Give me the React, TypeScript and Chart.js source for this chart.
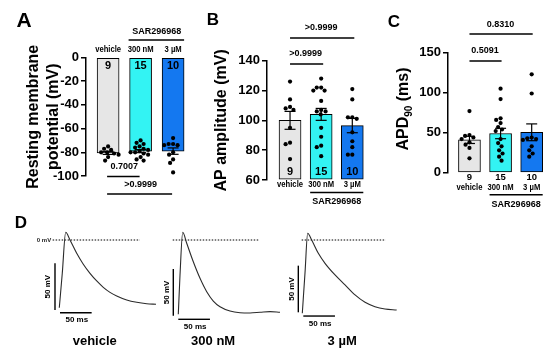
import React, { useEffect, useRef } from "react";
import { Chart, registerables } from "chart.js";
Chart.register(...registerables);

const FONT = "Arial, 'Liberation Sans', Helvetica, sans-serif";
Chart.defaults.font.family = FONT;
Chart.defaults.color = "#000";

// ---------------- data ----------------
const groups = ["vehicle", "300 nM", "3 µM"];
const groupN = ["9", "15", "10"];
const drugName = "SAR296968";
const barColors = ["#e6e6e6", "#33f3f3", "#1478f0"];

// A: resting membrane potential (mV)
const rmpVehicle = [-75, -77, -78, -80, -80, -81, -82, -84, -87];
const rmp300nM = [-70, -72, -73, -75, -76, -77, -78, -79, -80, -80, -81, -82, -84, -86, -87];
const rmp3uM = [-68, -73, -73, -74, -74, -80, -82, -86, -89, -97];
const rmpMean = [-80.5, -79, -79];
const rmpSem = [1.3, 1.3, 2.7];
const rmpP = ["0.7007", ">0.9999"];

// B: AP amplitude (mV)
const ampVehicle = [126, 114, 109, 108, 107, 95, 85, 84, 74];
const amp300nM = [128, 122, 122, 120, 120, 113, 107, 106, 106, 104, 95, 89, 83, 82, 76];
const amp3uM = [121, 114, 102, 102, 101, 92, 86, 82, 77, 77];
const ampMean = [100, 104, 96.5];
const ampSem = [6, 4, 4.8];
const ampP = [">0.9999", ">0.9999"];

// C: APD90 (ms)
const apdVehicle = [77, 47, 46, 44, 42, 38, 35, 31, 18];
const apd300nM = [105, 92, 68, 66, 62, 57, 54, 52, 42, 37, 33, 28, 24, 20, 15];
const apd3uM = [123, 99, 44, 43, 42, 41, 33, 28, 24, 20];
const apdMean = [41, 49, 50.5];
const apdSem = [4.5, 6.5, 10.5];
const apdP = ["0.5091", "0.8310"];

// D: representative action potentials (time ms, membrane potential mV)
const traceLabels = ["vehicle", "300 nM", "3 µM"];
const vehTime = [0, 4.7, 10.1, 16.9, 27.5, 37.9, 48.5, 59.1, 69.5, 80.1, 90.7, 106.5, 122.3, 138.1, 152.8];
const vehMv = [-72.6, -35.7, 8.3, 0, -14.3, -26.0, -35.7, -43.9, -50.7, -56.1, -60.0, -64.3, -66.8, -68.3, -68.9];
const t300Time = [0, 2.7, 7.0, 13.3, 23.7, 34.3, 44.9, 55.3, 65.9, 81.7, 97.5, 113.3, 129.1, 144.9, 160.7];
const t300Mv = [-79.6, -37.5, 8.3, -3.5, -23.3, -41.0, -55.4, -65.4, -71.5, -76.1, -77.9, -78.2, -77.5, -76.8, -77.5];
const t3uMTime = [0, 4.3, 8.5, 14.8, 25.3, 35.9, 51.7, 67.5, 83.3, 99.1, 114.8, 130.6, 149.1];
const t3uMMv = [-78.6, -35, 7.2, 0, -14.3, -25.0, -37.5, -48.2, -58.9, -66.8, -71.5, -74.0, -75.0];
const scaleBarMv = 50;
const scaleBarMs = 50;

// ---------------- layout ----------------
type Box = [number, number, number, number];
const PX_MS = 0.633;
const PX_MV = 0.933;
const T_MIN = -12, T_MAX = 162, V_MIN = -90, V_MAX = 12;
const ZERO_Y = 240;
const TRACE_X0 = [59.3, 178.3, 302.3];
const DOT_RANGE = [[-10.5, 127.3], [-8.8, 127.9], [-1, 131.8]];
const VBAR = [[-6.8, -75], [-7.9, -81.1], [-6.3, -77.5]];
const HBAR = [[1.1, -77.9], [0, -85], [1.6, -81.5]];
const LABEL_T = [56, 55, 63];

// ---------------- helpers ----------------
function drawText(
  ctx: CanvasRenderingContext2D, s: string, x: number, y: number, size: number,
  o: { align?: CanvasTextAlign; sx?: number; rot?: number; color?: string; weight?: string } = {}
) {
  ctx.save();
  ctx.translate(x, y);
  if (o.rot) ctx.rotate(o.rot);
  ctx.scale(o.sx ?? 1, 1);
  ctx.font = `${o.weight ?? "bold"} ${size}px ${FONT}`;
  ctx.fillStyle = o.color ?? "#000";
  ctx.textAlign = o.align ?? "center";
  ctx.textBaseline = "middle";
  ctx.fillText(s, 0, 0);
  ctx.restore();
}
function drawLine(ctx: CanvasRenderingContext2D, x1: number, y1: number, x2: number, y2: number, w = 1.5) {
  ctx.save();
  ctx.strokeStyle = "#000";
  ctx.lineWidth = w;
  ctx.beginPath();
  ctx.moveTo(x1, y1);
  ctx.lineTo(x2, y2);
  ctx.stroke();
  ctx.restore();
}
function swarm(vals: number[], pxY: number, d: number): number[] {
  const order = vals.map((_, i) => i).sort((a, b) => vals[b] - vals[a]);
  const placed: [number, number][] = [];
  const out = new Array(vals.length).fill(0);
  for (const i of order) {
    const y = vals[i] * pxY;
    let x = 0;
    for (let k = 0; k < 300; k++) {
      const c = (k % 2 === 1 ? -1 : 1) * Math.ceil(k / 2) * 0.5;
      if (placed.every(([px, py]) => (px - c) ** 2 + (py - y) ** 2 >= d * d)) { x = c; break; }
    }
    placed.push([x, y]);
    out[i] = x;
  }
  return out;
}

type BarPanel = {
  box: Box;
  plot: [number, number, number, number];
  xRange: [number, number];
  yRange: [number, number];
  yStep: number;
  values: number[][];
  means: number[];
  sems: number[];
  title?: string | string[];
  titlePad?: number;
  draw: (chart: any) => void;
};

function barConfig(p: BarPanel): any {
  const [cl, ct, cw, ch] = p.box;
  const [pl, pt, pr, pb] = p.plot;
  const pxX = (pr - pl) / (p.xRange[1] - p.xRange[0]);
  const pxY = (pb - pt) / (p.yRange[1] - p.yRange[0]);
  const dots: { x: number; y: number }[] = [];
  p.values.forEach((vals, g) => {
    const offs = swarm(vals, pxY, 4.5);
    vals.forEach((v, i) => dots.push({ x: g + offs[i] / pxX, y: v }));
  });
  const [ymin, ymax] = p.yRange;
  const base = ymin > 0 ? ymin : ymax < 0 ? ymax : 0;
  return {
    type: "bar",
    data: {
      datasets: [
        { type: "scatter", data: dots, backgroundColor: "#000", borderWidth: 0, pointRadius: 2.1, order: 1, clip: false },
        {
          type: "bar", data: p.means.map((m, i) => ({ x: i, y: m })), backgroundColor: barColors, base,
          borderColor: "#000", borderWidth: 1, barThickness: 22, borderSkipped: false, order: 2, clip: false,
        },
      ],
    },
    options: {
      responsive: false,
      animation: false,
      events: [],
      layout: { padding: { left: 0, top: pt - ct, right: cl + cw - pr, bottom: ct + ch - pb } },
      plugins: { legend: { display: false }, tooltip: { enabled: false } },
      scales: {
        x: { type: "linear", min: p.xRange[0], max: p.xRange[1], display: false, offset: false, grid: { offset: false } },
        y: {
          min: ymin, max: ymax,
          ticks: { stepSize: p.yStep, color: "#000", font: { size: 13, weight: "bold" }, padding: 2 },
          grid: { drawOnChartArea: false, color: "#000", lineWidth: 1.5, tickLength: 5 },
          border: { color: "#000", width: 1.5 },
          title: {
            display: !!p.title, text: p.title ?? "", color: "#000",
            font: { size: 16, weight: "bold", lineHeight: 1.2 },
            padding: { top: p.titlePad ?? 0, bottom: 0 },
          },
          afterFit: (s: any) => { s.width = pl - cl; },
        },
      },
    },
    plugins: [
      {
        id: "extras",
        afterDatasetDraw(chart: any, args: any) {
          if (args.meta.type !== "bar") return;
          const ctx = chart.ctx;
          const ys = chart.scales.y;
          args.meta.data.forEach((el: any, i: number) => {
            const y1 = ys.getPixelForValue(p.means[i] - p.sems[i]);
            const y2 = ys.getPixelForValue(p.means[i] + p.sems[i]);
            drawLine(ctx, el.x, y1, el.x, y2, 1.2);
            drawLine(ctx, el.x - 5.5, y1, el.x + 5.5, y1, 1.2);
            drawLine(ctx, el.x - 5.5, y2, el.x + 5.5, y2, 1.2);
          });
        },
        afterDraw(chart: any) { p.draw(chart); },
      },
    ],
  };
}

function drawPanelA(chart: any) {
  const ctx = chart.ctx;
  const x = (v: number) => chart.scales.x.getPixelForValue(v);
  const { top, bottom } = chart.chartArea;
  drawText(ctx, "A", 24, 21, 21);
  groups.forEach((g, i) => drawText(ctx, g, x(i), top - 8, 9, { sx: 0.85 }));
  drawLine(ctx, x(1) - 12, top - 17.5, x(2) + 11, top - 17.5);
  drawText(ctx, drugName, (x(1) + x(2)) / 2, top - 25.5, 9);
  groupN.forEach((n, i) => drawText(ctx, n, x(i), top + 8, 11));
  drawLine(ctx, x(0) - 1, bottom + 0.5, x(1) - 1, bottom + 0.5);
  drawText(ctx, rmpP[0], (x(0) + x(1)) / 2, bottom - 9, 9);
  drawLine(ctx, x(0) - 1, bottom + 18, x(2) - 1, bottom + 18);
  drawText(ctx, rmpP[1], (x(0) + x(2)) / 2, bottom + 9, 9);
}

function drawPanelB(chart: any) {
  const ctx = chart.ctx;
  const x = (v: number) => chart.scales.x.getPixelForValue(v);
  const { top, bottom } = chart.chartArea;
  drawText(ctx, "B", 23, 20, 17);
  drawText(ctx, ampP[1], (x(0) + x(2)) / 2, top - 32.7, 9);
  drawLine(ctx, x(0), top - 22.7, x(2) + 2, top - 22.7);
  drawText(ctx, ampP[0], (x(0) + x(1)) / 2, top - 6.7, 9);
  drawLine(ctx, x(0), top + 3.3, x(1) + 2, top + 3.3);
  groupN.forEach((n, i) => drawText(ctx, n, x(i), bottom - 8, 11));
  groups.forEach((g, i) => drawText(ctx, g, x(i), bottom + 4.5, 9, { sx: 0.85 }));
  drawLine(ctx, x(1) - 11, bottom + 12.5, x(2) + 11, bottom + 12.5);
  drawText(ctx, drugName, (x(1) + x(2)) / 2, bottom + 21.5, 9);
}

function drawPanelC(chart: any) {
  const ctx = chart.ctx;
  const x = (v: number) => chart.scales.x.getPixelForValue(v);
  const { top, bottom } = chart.chartArea;
  drawText(ctx, "C", 24, 22, 17);
  // rotated y title with subscript
  ctx.save();
  ctx.translate(37.5, 109);
  ctx.rotate(-Math.PI / 2);
  ctx.fillStyle = "#000";
  ctx.textBaseline = "alphabetic";
  ctx.textAlign = "left";
  const big = `bold 16px ${FONT}`, small = `bold 10px ${FONT}`;
  ctx.font = big; const w1 = ctx.measureText("APD").width; const w3 = ctx.measureText(" (ms)").width;
  ctx.font = small; const w2 = ctx.measureText("90").width;
  let sx = -(w1 + w2 + w3) / 2;
  ctx.font = big; ctx.fillText("APD", sx, 0); sx += w1;
  ctx.font = small; ctx.fillText("90", sx, 4); sx += w2;
  ctx.font = big; ctx.fillText(" (ms)", sx, 0);
  ctx.restore();
  drawText(ctx, apdP[1], (x(0) + x(2)) / 2, top - 27.7, 9);
  drawLine(ctx, x(0), top - 18.7, x(2) + 1, top - 18.7);
  drawText(ctx, apdP[0], (x(0) + x(1)) / 2, top - 1.7, 9);
  drawLine(ctx, x(0), top + 8.3, x(1) + 1, top + 8.3);
  groupN.forEach((n, i) => drawText(ctx, n, x(i), bottom + 4.5, 9.5));
  groups.forEach((g, i) => drawText(ctx, g, x(i), bottom + 14.5, 9, { sx: 0.85 }));
  drawLine(ctx, x(1) - 11, bottom + 22, x(2) + 11, bottom + 22);
  drawText(ctx, drugName, (x(1) + x(2)) / 2, bottom + 31.5, 9);
}

const panelA: BarPanel = {
  box: [0, 0, 195, 205], plot: [86, 57.5, 190, 176], xRange: [-0.68, 2.52], yRange: [-100, 0], yStep: 20,
  values: [rmpVehicle, rmp300nM, rmp3uM], means: rmpMean, sems: rmpSem,
  title: ["Resting membrane", "potential (mV)"], titlePad: 24.4, draw: drawPanelA,
};
const panelB: BarPanel = {
  box: [190, 0, 180, 210], plot: [267, 60.7, 368, 180], xRange: [-0.74, 2.44], yRange: [60, 140], yStep: 20,
  values: [ampVehicle, amp300nM, amp3uM], means: ampMean, sems: ampSem,
  title: "AP amplitude (mV)", titlePad: 22.4, draw: drawPanelB,
};
const panelC: BarPanel = {
  box: [370, 0, 180, 210], plot: [448, 52.7, 548, 172.7], xRange: [-0.69, 2.46], yRange: [0, 150], yStep: 50,
  values: [apdVehicle, apd300nM, apd3uM], means: apdMean, sems: apdSem,
  draw: drawPanelC,
};

const traces = [
  { t: vehTime, v: vehMv },
  { t: t300Time, v: t300Mv },
  { t: t3uMTime, v: t3uMMv },
];

function traceBox(i: number): Box {
  return [Math.floor(TRACE_X0[i]) - 59, 205, 175, 149];
}

function traceConfig(i: number): any {
  const box = traceBox(i);
  const plotLeft = TRACE_X0[i] + T_MIN * PX_MS;
  const plotTop = ZERO_Y - V_MAX * PX_MV;
  const plotW = (T_MAX - T_MIN) * PX_MS;
  const plotH = (V_MAX - V_MIN) * PX_MV;
  const tr = traces[i];
  const [vt, vb] = VBAR[i];
  const [ht, hv] = HBAR[i];
  return {
    type: "line",
    data: {
      datasets: [
        {
          data: tr.t.map((t, k) => ({ x: t, y: tr.v[k] })), borderColor: "#2b2b2b", borderWidth: 1.1,
          pointRadius: 0, cubicInterpolationMode: "monotone", clip: false,
        },
        {
          data: [{ x: DOT_RANGE[i][0], y: 0 }, { x: DOT_RANGE[i][1], y: 0 }], borderColor: "#000",
          borderWidth: 1, borderDash: [1.5, 1.5], pointRadius: 0, clip: false,
        },
        {
          data: [{ x: vt, y: vb }, { x: vt, y: vb + scaleBarMv }], borderColor: "#000", borderWidth: 1.4,
          pointRadius: 0, clip: false,
        },
        {
          data: [{ x: ht, y: hv }, { x: ht + scaleBarMs, y: hv }], borderColor: "#000", borderWidth: 1.4,
          pointRadius: 0, clip: false,
        },
      ],
    },
    options: {
      responsive: false,
      animation: false,
      events: [],
      layout: {
        padding: {
          left: plotLeft - box[0], top: plotTop - box[1],
          right: box[0] + box[2] - (plotLeft + plotW), bottom: box[1] + box[3] - (plotTop + plotH),
        },
      },
      plugins: { legend: { display: false }, tooltip: { enabled: false } },
      scales: {
        x: { type: "linear", min: T_MIN, max: T_MAX, display: false },
        y: { type: "linear", min: V_MIN, max: V_MAX, display: false },
      },
    },
    plugins: [
      {
        id: "traceText",
        afterDraw(chart: any) {
          const ctx = chart.ctx;
          const xs = chart.scales.x, ys = chart.scales.y;
          const bx = xs.getPixelForValue(vt);
          const bm = ys.getPixelForValue(vb + scaleBarMv / 2);
          drawText(ctx, `${scaleBarMv} mV`, bx - 7, bm, 8, { rot: -Math.PI / 2 });
          const hx = xs.getPixelForValue(ht + scaleBarMs / 2);
          const hy = ys.getPixelForValue(hv);
          drawText(ctx, `${scaleBarMs} ms`, hx + 1, hy + 7.5, 8);
          if (i === 0) {
            drawText(ctx, "0 mV", xs.getPixelForValue(DOT_RANGE[0][0]) - 1.5, ys.getPixelForValue(0), 6, { align: "right", color: "#222" });
            drawText(ctx, "D", 21, 18, 17);
          }
          drawText(ctx, traceLabels[i], xs.getPixelForValue(LABEL_T[i]), 136, 13);
        },
      },
    ],
  };
}

function ChartCanvas({ box, make }: { box: Box; make: () => any }) {
  const ref = useRef<HTMLCanvasElement>(null);
  useEffect(() => {
    const chart = new Chart(ref.current as HTMLCanvasElement, make());
    return () => chart.destroy();
  }, []);
  return (
    <canvas
      ref={ref}
      width={box[2]}
      height={box[3]}
      style={{ position: "absolute", left: box[0], top: box[1], width: box[2], height: box[3] }}
    />
  );
}

export default function App() {
  return (
    <div style={{ position: "fixed", left: 0, top: 0, width: 550, height: 354, background: "#fff", overflow: "hidden" }}>
      <ChartCanvas box={panelA.box} make={() => barConfig(panelA)} />
      <ChartCanvas box={panelB.box} make={() => barConfig(panelB)} />
      <ChartCanvas box={panelC.box} make={() => barConfig(panelC)} />
      {[0, 1, 2].map((i) => (
        <ChartCanvas key={i} box={traceBox(i)} make={() => traceConfig(i)} />
      ))}
    </div>
  );
}
